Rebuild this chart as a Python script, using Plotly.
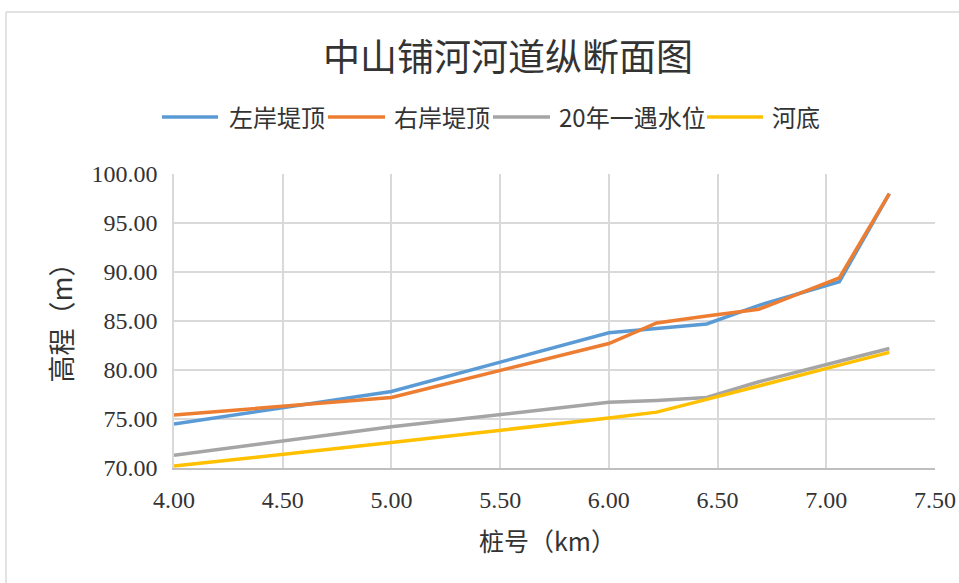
import plotly.graph_objects as go

# Station positions along the river (km)
stations = [4.00, 5.00, 6.00, 6.22, 6.45, 6.69, 7.06, 7.29]

# Elevations (m)
left_bank = [74.5, 77.8, 83.8, 84.2, 84.7, 86.6, 89.0, 98.0]
right_bank = [75.4, 77.2, 82.7, 84.8, 85.5, 86.2, 89.4, 98.0]
flood_20yr = [71.3, 74.2, 76.7, 76.9, 77.2, 78.8, 80.9, 82.2]
river_bed = [70.2, 72.6, 75.1, 75.7, 77.0, 78.4, 80.5, 81.8]

series_names = ["左岸堤顶", "右岸堤顶", "20年一遇水位", "河底"]
series_colors = ["#5B9BD5", "#ED7D31", "#A5A5A5", "#FFC000"]

x_ticks = [4.0, 4.5, 5.0, 5.5, 6.0, 6.5, 7.0, 7.5]
y_ticks = [70, 75, 80, 85, 90, 95, 100]

cjk = "Noto Sans CJK SC"
num_font = "Liberation Serif"
text_color = "#333333"

fig = go.Figure()
for name, vals, color in zip(series_names, [left_bank, right_bank, flood_20yr, river_bed], series_colors):
    fig.add_trace(go.Scatter(
        x=stations, y=vals, mode="lines", name=name,
        line=dict(color=color, width=3.5), showlegend=False,
    ))

W, H = 959, 583
L, R, T, B = 174, 24, 174, 115
pw, ph = W - L - R, H - T - B

def px_x(p):
    return (p - L) / pw

def px_y(p):
    return (H - B - p) / ph

# Legend row: line sample start/end and label start (pixels)
legend_items = [(162, 218, 227), (328, 385, 392), (493, 550, 557), (707, 763, 770)]
legend_y = 117

shapes = [
    dict(type="line", xref="paper", yref="paper",
         x0=px_x(6), x1=px_x(6), y0=px_y(12), y1=px_y(600),
         line=dict(color="#D9D9D9", width=1.5), layer="below"),
    dict(type="line", xref="paper", yref="paper",
         x0=px_x(6), x1=px_x(970), y0=px_y(12), y1=px_y(12),
         line=dict(color="#D9D9D9", width=1.5), layer="below"),
]
annotations = [
    dict(text="中山铺河河道纵断面图", xref="paper", yref="paper",
         x=px_x(508), y=px_y(55), xanchor="center", yanchor="middle",
         showarrow=False, font=dict(family=cjk, size=37, color=text_color)),
    dict(text="桩号（km）", xref="paper", yref="paper",
         x=px_x(547), y=px_y(540), xanchor="center", yanchor="middle",
         showarrow=False, font=dict(family=cjk, size=25, color=text_color)),
    dict(text="高程（m）", xref="paper", yref="paper", textangle=-90,
         x=px_x(60), y=px_y(385), xanchor="center", yanchor="bottom",
         showarrow=False, font=dict(family=cjk, size=27, color=text_color)),
]
for (x0, x1, tx), name, color in zip(legend_items, series_names, series_colors):
    shapes.append(dict(type="line", xref="paper", yref="paper",
                       x0=px_x(x0), x1=px_x(x1), y0=px_y(legend_y), y1=px_y(legend_y),
                       line=dict(color=color, width=3.5)))
    annotations.append(dict(text=name, xref="paper", yref="paper",
                            x=px_x(tx), y=px_y(legend_y), xanchor="left", yanchor="middle",
                            showarrow=False, font=dict(family=cjk, size=24, color=text_color)))

fig.update_layout(
    width=W, height=H,
    margin=dict(l=L, r=R, t=T, b=B, autoexpand=False),
    paper_bgcolor="white", plot_bgcolor="white",
    showlegend=False,
    xaxis=dict(
        range=[4.0, 7.5], tickvals=x_ticks, tickformat=".2f",
        showgrid=True, gridcolor="#D9D9D9", gridwidth=1.5,
        showline=True, linecolor="#BFBFBF", linewidth=1.5,
        zeroline=False, ticks="", ticklabelstandoff=9, automargin=False,
        tickfont=dict(family=num_font, size=24, color=text_color),
    ),
    yaxis=dict(
        range=[70, 100], tickvals=y_ticks, tickformat=".2f",
        showgrid=True, gridcolor="#D9D9D9", gridwidth=1.5,
        showline=True, linecolor="#D9D9D9", linewidth=1.5,
        zeroline=False, ticks="", ticklabelstandoff=10, automargin=False,
        tickfont=dict(family=num_font, size=24, color=text_color),
    ),
    annotations=annotations,
    shapes=shapes,
)

fig.write_html("out.html")
